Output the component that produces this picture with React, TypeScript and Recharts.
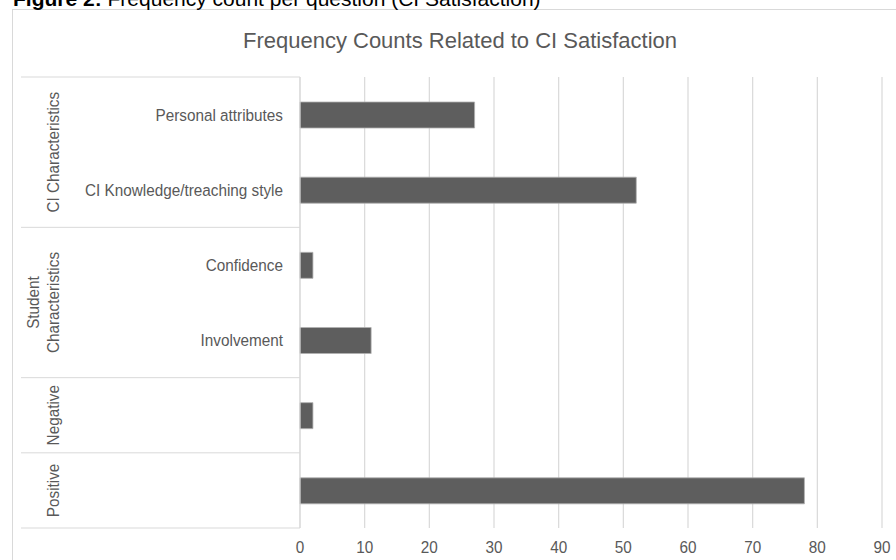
import { BarChart, Bar, XAxis, YAxis, CartesianGrid } from "recharts"

const categories = ["Personal attributes", "CI Knowledge/treaching style", "Confidence", "Involvement", "", ""]
const groups = ["CI Characteristics", "CI Characteristics", "Student\nCharacteristics", "Student\nCharacteristics", "Negative", "Positive"]
const counts = [27, 52, 2, 11, 2, 78]
const xTicks = [0, 10, 20, 30, 40, 50, 60, 70, 80, 90]

const data = categories.map((label, i) => ({ id: i, label, group: groups[i], count: counts[i] }))

const FONT = "'Liberation Sans', Arial, sans-serif"
const GREY = "#595959"
const LINE = "#d9d9d9"
const PLOT_TOP = 77
const PLOT_BOTTOM = 528
const AXIS_X = 300
const LEFT = 21
const X_AXIS_H = 30
const SQUEEZE = 0.9
const band = (PLOT_BOTTOM - PLOT_TOP) / data.length

// condensed-looking text, like the narrow font in the original
const Narrow = ({ x, y, angle = 0, anchor, children }: any) => (
    <text transform={`translate(${x}, ${y}) rotate(${angle}) scale(${SQUEEZE}, 1)`} textAnchor={anchor}
        dominantBaseline="central" fill={GREY} fontSize={17} fontFamily={FONT}>{children}</text>
)

const RowTick = (props: any) => {
    const { y, payload } = props
    const i = Number(payload.value)
    const row = data[i]
    const first = i === 0 || data[i - 1].group !== row.group
    const last = i === data.length - 1 || data[i + 1].group !== row.group
    let groupEl = null
    if (first) {
        let n = 1
        while (i + n < data.length && data[i + n].group === row.group) n++
        const cy = y - band / 2 + (n * band) / 2
        const lines = row.group.split("\n")
        groupEl = lines.map((t, k) => (
            <Narrow key={k} x={53 - (lines.length - 1 - k) * 20} y={cy} angle={-90} anchor="middle">{t}</Narrow>
        ))
    }
    return (
        <g>
            {i === 0 && <line x1={LEFT} x2={AXIS_X} y1={y - band / 2} y2={y - band / 2} stroke={LINE} />}
            {last && <line x1={LEFT} x2={AXIS_X} y1={y + band / 2} y2={y + band / 2} stroke={LINE} />}
            {groupEl}
            <Narrow x={AXIS_X - 17} y={y} anchor="end">{row.label}</Narrow>
        </g>
    )
}

const ValueTick = (props: any) => {
    const { x, y, payload } = props
    return <Narrow x={x} y={y + 11} anchor="middle">{payload.value}</Narrow>
}

export default function App() {
    return (
        <div style={{ position: "absolute", left: 0, top: 0, width: 896, height: 560, overflow: "hidden", background: "#fff" }}>
            <svg width={896} height={560} style={{ position: "absolute", left: 0, top: 0 }}>
                <rect x={12.5} y={9.5} width={900} height={600} fill="none" stroke={LINE} />
                <text x={13} y={6} fontSize={21} fontFamily={FONT} fill="#000">
                    <tspan fontWeight="bold">Figure 2:</tspan> Frequency count per question (CI Satisfaction)
                </text>
                <text x={460} y={48} textAnchor="middle" fontSize={22} fontFamily={FONT} fill={GREY}>
                    Frequency Counts Related to CI Satisfaction
                </text>
            </svg>
            <div style={{ position: "absolute", left: 0, top: 0 }}>
                <BarChart width={896} height={560} data={data} layout="vertical"
                    margin={{ top: PLOT_TOP, right: 14, bottom: 560 - PLOT_BOTTOM - X_AXIS_H, left: LEFT }}>
                    <CartesianGrid horizontal={false} stroke={LINE} strokeWidth={1.2} />
                    <XAxis type="number" domain={[0, 90]} ticks={xTicks} interval={0} axisLine={false} tickLine={false}
                        height={X_AXIS_H} tick={<ValueTick />} />
                    <YAxis type="category" dataKey="id" width={AXIS_X - LEFT} tickLine={false}
                        axisLine={{ stroke: LINE }} tick={<RowTick />} interval={0} />
                    <Bar dataKey="count" fill="#5e5e5e" stroke="#b0b0b0" strokeWidth={0.8} barSize={26} isAnimationActive={false} />
                </BarChart>
            </div>
        </div>
    )
}
